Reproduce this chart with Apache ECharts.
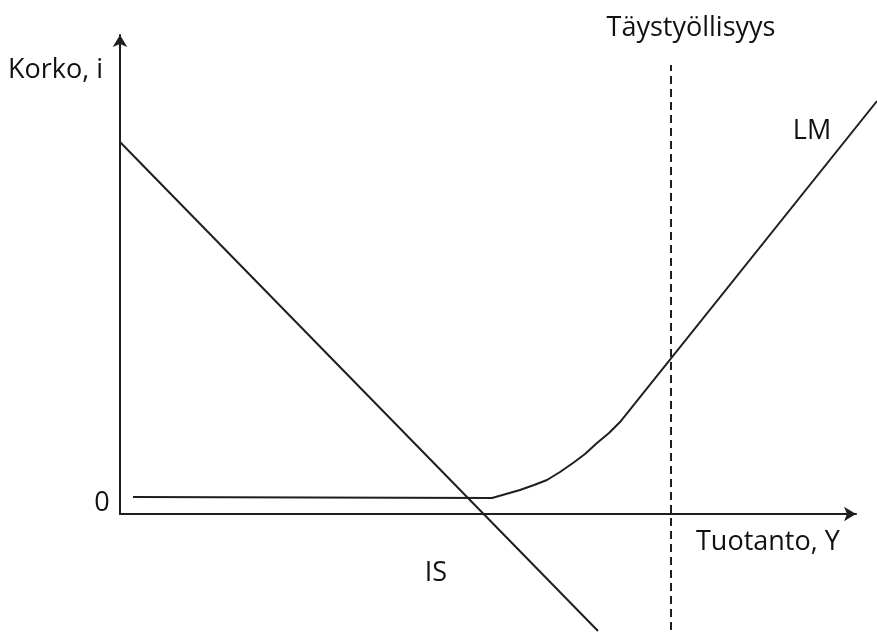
<!DOCTYPE html>
<html>
<head>
<meta charset="utf-8">
<script src="https://cdn.jsdelivr.net/npm/echarts@6/dist/echarts.min.js"></script>
<style>html,body{margin:0;padding:0;background:#fff}#c{width:877px;height:635px}</style>
</head>
<body>
<div id="c"></div>
<script>
// Data (conceptual units: output Y on x, interest rate i on y)
const xRange = [0, 736];
const yRange = [0, 479];
const plotXRange = [0, 757];
const isCurve = [[0, 372], [478, -117]];
const lmCurve = [[13, 17], [372, 16], [386, 20], [400, 24], [414, 29], [427, 34], [440, 42], [453, 51], [465, 60], [477, 71], [489, 81], [500, 92], [757, 413]];
const fullEmployment = [[551, -116], [551, 449]];
const labels = {
  yName: 'Korko, i', xName: 'Tuotanto, Y', zero: '0',
  full: 'Täystyöllisyys', lm: 'LM', is: 'IS'
};

const chart = echarts.init(document.getElementById('c'));
const ink = '#1e1e1e';
const font = '"Open Sans", sans-serif';
const txt = (text, x, y, align) => ({
  type: 'text', x: x, y: y,
  style: { text: text, fill: '#111', font: '27px ' + font, textAlign: align, textVerticalAlign: 'middle' }
});
const axisBase = {
  type: 'value',
  axisLine: { show: true, symbol: ['none', 'arrow'], symbolSize: [11, 12], lineStyle: { color: ink, width: 2 } },
  axisTick: { show: false }, axisLabel: { show: false }, splitLine: { show: false }
};
const hiddenAxis = { type: 'value', show: false, splitLine: { show: false } };
chart.setOption({
  animation: false,
  grid: [
    { left: 120, top: 35, right: 21, bottom: 121 },
    { left: 120, top: 35, right: 0, bottom: 121 }
  ],
  xAxis: [
    Object.assign({}, axisBase, { gridIndex: 0, min: xRange[0], max: xRange[1] }),
    Object.assign({}, hiddenAxis, { gridIndex: 1, min: plotXRange[0], max: plotXRange[1] })
  ],
  yAxis: [
    Object.assign({}, axisBase, { gridIndex: 0, min: yRange[0], max: yRange[1] }),
    Object.assign({}, hiddenAxis, { gridIndex: 1, min: yRange[0], max: yRange[1] })
  ],
  series: [
    { name: 'IS', type: 'line', xAxisIndex: 1, yAxisIndex: 1, data: isCurve, clip: false, symbol: 'none', lineStyle: { color: ink, width: 2 } },
    { name: 'LM', type: 'line', xAxisIndex: 1, yAxisIndex: 1, data: lmCurve, clip: false, symbol: 'none', lineStyle: { color: ink, width: 2, join: 'round' } },
    { name: 'full', type: 'line', xAxisIndex: 1, yAxisIndex: 1, data: fullEmployment, clip: false, symbol: 'none', lineStyle: { color: ink, width: 2, type: [8, 5] } }
  ],
  graphic: [
    txt(labels.yName, 103, 70, 'right'),
    txt(labels.full, 691, 28, 'center'),
    txt(labels.lm, 812, 131, 'center'),
    txt(labels.zero, 102, 503, 'center'),
    txt(labels.xName, 696, 542, 'left'),
    txt(labels.is, 436, 573, 'center')
  ]
});
</script>
</body>
</html>
